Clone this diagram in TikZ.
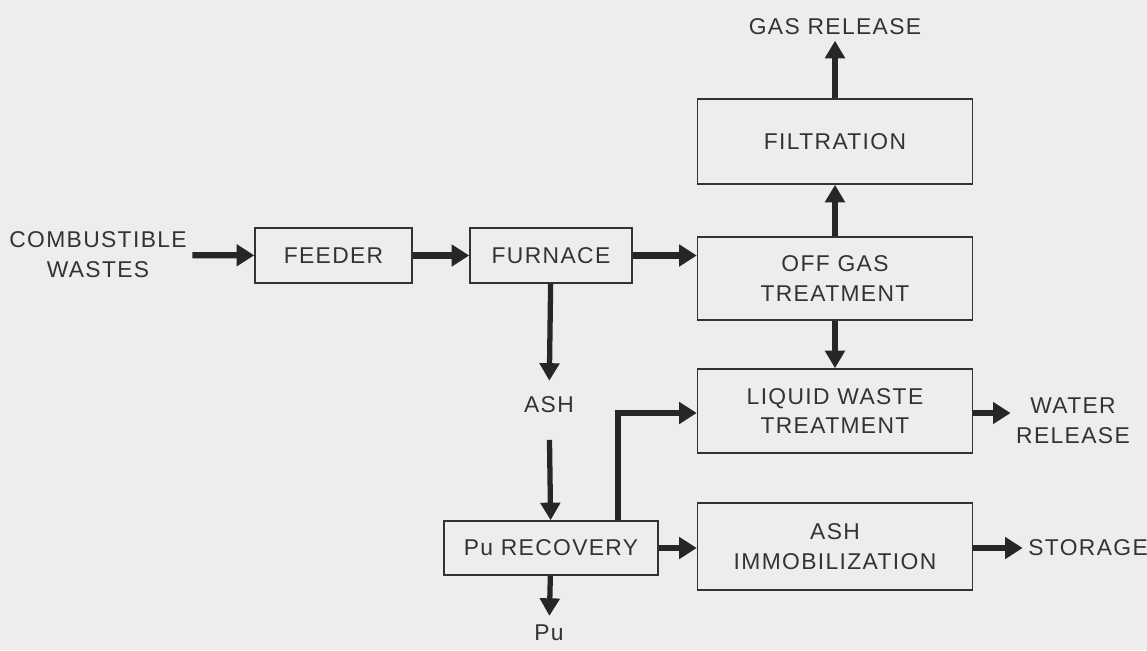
\documentclass[tikz,border=0pt]{standalone}
\usepackage{fontspec}
\setmainfont[LetterSpace=6]{Liberation Sans}
\usepackage{tikz}
\usetikzlibrary{arrows.meta,positioning,calc}
\tikzset{
  box/.style={draw=black!80,line width=0.9pt,align=center,text=black!80,
              inner sep=0pt,font=\fontsize{13}{17}\selectfont},
  lbl/.style={align=center,text=black!80,inner sep=3pt,
              font=\fontsize{13}{17}\selectfont},
  arr/.style={-{Triangle[length=10pt,width=12pt]},line width=3.6pt,black!85},
  varr/.style={-{Triangle[length=10pt,width=11pt]},line width=3pt,black!85},
}
\begin{document}
\begin{tikzpicture}[x=0.02cm,y=-0.02cm]
% page and background
\fill[black!7] (0,0) rectangle (1147,650);
\useasboundingbox (0,0) rectangle (1147,650);
% process boxes
\node[box,minimum width=3.14cm,minimum height=1.1cm] (feeder) at (333.5,255.5) {FEEDER};
\node[box,minimum width=3.24cm,minimum height=1.1cm] (furnace) at (551,255.5) {FURNACE};
\node[box,minimum width=5.5cm,minimum height=1.7cm] (filter) at (835,141.5) {FILTRATION};
\node[box,minimum width=5.5cm,minimum height=1.66cm] (offgas) at (835,278.5) {OFF GAS\\TREATMENT};
\node[box,minimum width=5.5cm,minimum height=1.68cm] (liquid) at (835,411) {LIQUID WASTE\\TREATMENT};
\node[box,minimum width=5.5cm,minimum height=1.74cm] (ashimm) at (835,546.5) {ASH\\IMMOBILIZATION};
\node[box,minimum width=4.28cm,minimum height=1.08cm] (purec) at (551,548) {Pu RECOVERY};
% free labels
\node[lbl] (waste) at (98,255) {COMBUSTIBLE\\WASTES};
\node[lbl] (gas) at (835,27) {GAS RELEASE};
\node[lbl] (ash) at (549,405) {ASH};
\node[lbl] (pu) at (549,633) {Pu};
\node[lbl] (water) at (1073,421) {WATER\\RELEASE};
\node[lbl] (store) at (1088,548) {STORAGE};
\coordinate (elbow) at (618,413);
% main line
\draw[arr] (waste) -- (feeder);
\draw[arr] (feeder) -- (furnace);
\draw[arr] (furnace) -- (offgas.west |- furnace);
\draw[varr] (offgas) -- (filter);
\draw[varr] (filter) -- (gas);
\draw[varr] (offgas) -- (liquid);
% ash path
\draw[varr,shorten >=6pt] (furnace) -- (ash);
\draw[varr,shorten <=12pt] (ash) -- (purec);
\draw[varr,shorten >=2pt] (purec) -- (pu);
\draw[arr] (purec.north -| elbow) |- (elbow -| liquid.west);
\draw[arr] (purec.east) -- (ashimm.west |- purec);
% outputs
\draw[arr] (liquid.east |- elbow) -- (water.west |- elbow);
\draw[arr] (ashimm.east |- purec) -- (store);
\end{tikzpicture}
\end{document}
